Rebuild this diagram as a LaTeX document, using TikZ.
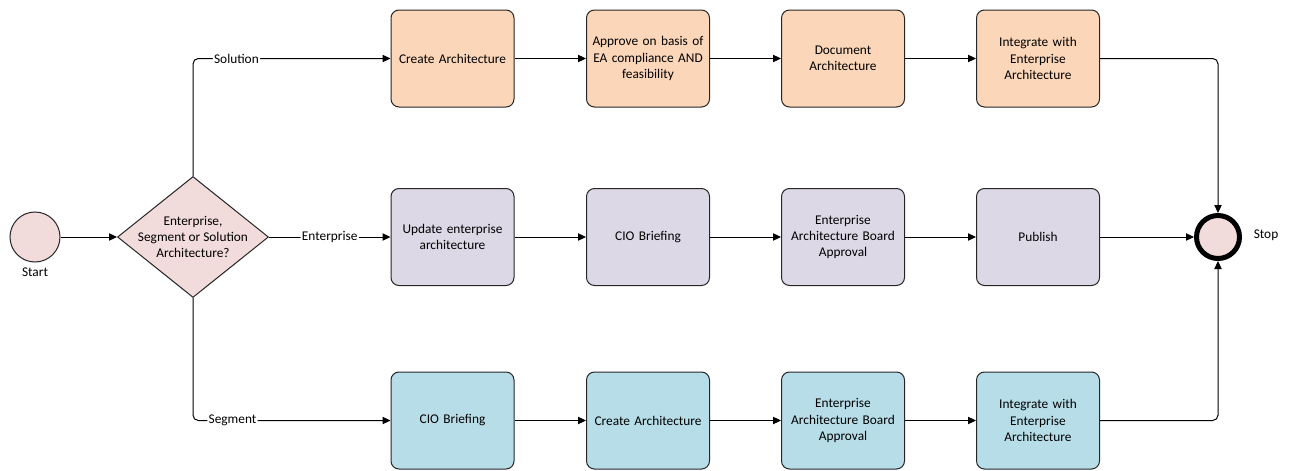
\documentclass[tikz,border=0pt]{standalone}
\usepackage{fontspec}
\setmainfont{Carlito}
\usetikzlibrary{shapes.geometric,arrows.meta}

\definecolor{peach}{HTML}{FBD6B8}
\definecolor{lavender}{HTML}{DDD8E6}
\definecolor{paleblue}{HTML}{B7DEE8}
\definecolor{pink}{HTML}{F2DCDB}

\tikzset{
  every node/.style={font=\fontsize{10}{12.3}\selectfont},
  task/.style={draw=black!85, line width=0.75pt, rounded corners=6pt,
    minimum width=92.25pt, minimum height=72.75pt, text width=88pt,
    align=center, inner sep=1pt},
  sol/.style={task, fill=peach},
  ent/.style={task, fill=lavender},
  seg/.style={task, fill=paleblue},
  event/.style={circle, draw=black!85, line width=0.75pt, fill=pink,
    minimum size=37.5pt, inner sep=0pt},
  endevent/.style={circle, draw=black, line width=3.75pt, fill=pink,
    minimum size=32.25pt, inner sep=0pt},
  gateway/.style={diamond, draw=black!85, line width=0.75pt, fill=pink,
    minimum width=113.25pt, minimum height=90.75pt, inner sep=0pt},
  flow/.style={draw=black, line width=0.75pt, rounded corners=4pt,
    -{Triangle[length=6pt,width=5.5pt]}},
  lbl/.style={fill=white, inner sep=1pt},
}

\begin{document}
\begin{tikzpicture}[x=0.75pt, y=-0.75pt]
\useasboundingbox (0,0) rectangle (1289,471);

% events and gateway
\node[event] (start) at (35,237) {};
\node (startlbl) at (35,272) {Start};
\node[gateway, label={[align=center]center:Enterprise,\\Segment or Solution\\Architecture?}] (dec) at (193,237) {};
\node[endevent] (stop) at (1218,237) {};
\node (stoplbl) at (1266,235) {Stop};

% solution lane
\node[sol] (s1) at (452.5,58.5) {Create Architecture};
\node[sol] (s2) at (648,58.5) {Approve on basis of\\EA compliance AND\\feasibility};
\node[sol] (s3) at (843,58.5) {Document\\Architecture};
\node[sol] (s4) at (1038,58.5) {Integrate with\\Enterprise\\Architecture};

% enterprise lane
\node[ent] (e1) at (452.5,237) {Update enterprise\\architecture};
\node[ent] (e2) at (648,237) {CIO Briefing};
\node[ent] (e3) at (843,237) {Enterprise\\Architecture Board\\Approval};
\node[ent] (e4) at (1038,237) {Publish};

% segment lane
\node[seg] (g1) at (452.5,420.5) {CIO Briefing};
\node[seg] (g2) at (648,420.5) {Create Architecture};
\node[seg] (g3) at (843,420.5) {Enterprise\\Architecture Board\\Approval};
\node[seg] (g4) at (1038,420.5) {Integrate with\\Enterprise\\Architecture};

% flows
\draw[flow] (start) -- (dec);
\draw[flow] (dec.north) |- node[lbl, pos=0.61] {Solution} (s1);
\draw[flow] (dec.east) -- node[lbl, pos=0.5] {Enterprise} (e1);
\draw[flow] (dec.south) |- node[lbl, pos=0.6] {Segment} (g1);

\draw[flow] (s1) -- (s2);
\draw[flow] (s2) -- (s3);
\draw[flow] (s3) -- (s4);
\draw[flow] (e1) -- (e2);
\draw[flow] (e2) -- (e3);
\draw[flow] (e3) -- (e4);
\draw[flow] (g1) -- (g2);
\draw[flow] (g2) -- (g3);
\draw[flow] (g3) -- (g4);

\draw[flow] (s4) -| (stop);
\draw[flow] (e4) -- (stop);
\draw[flow] (g4) -| (stop);
\end{tikzpicture}
\end{document}
